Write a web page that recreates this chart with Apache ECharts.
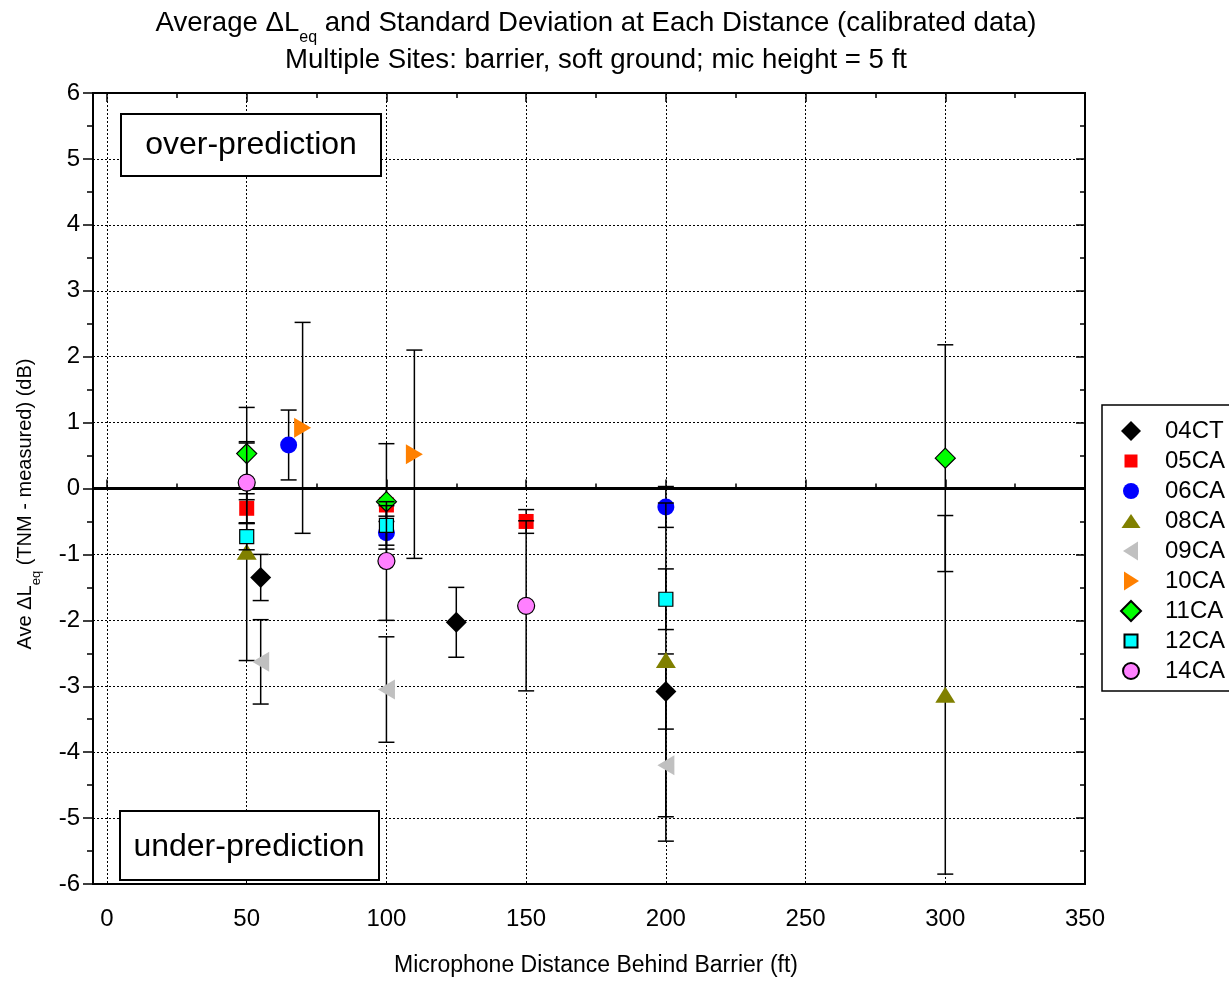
<!DOCTYPE html>
<html><head><meta charset="utf-8">
<script src="https://cdn.jsdelivr.net/npm/echarts@6/dist/echarts.min.js"></script>
<style>html,body{margin:0;padding:0;background:#fff}#c{width:1229px;height:981px}</style>
</head><body><div id="c"></div>
<script>
// ---------------- DATA ----------------
const seriesNames = ['04CT','05CA','06CA','08CA','09CA','10CA','11CA','12CA','14CA'];
const xTickValues = [0, 50, 100, 150, 200, 250, 300, 350];
const yTickValues = [-6,-5,-4,-3,-2,-1,0,1,2,3,4,5,6];
const zeroLine = [[0, 0], [1, 0]];

const x04CT = [55, 125, 200];   const y04CT = [-1.35, -2.03, -3.08]; const sd04CT = [0.35, 0.53, 0.57];
const x05CA = [50, 100, 150];   const y05CA = [-0.30, -0.25, -0.50]; const sd05CA = [0.22, 0.25, 0.18];
const x06CA = [65, 100, 200];   const y06CA = [0.66, -0.67, -0.28];  const sd06CA = [0.53, 0.25, 0.31];
const x08CA = [50, 200, 300];   const y08CA = [-0.96, -2.60, -3.13]; const sd08CA = [1.65, 2.38, 2.72];
const x09CA = [55, 100, 200];   const y09CA = [-2.63, -3.05, -4.20]; const sd09CA = [0.64, 0.80, 1.15];
const x10CA = [70, 110];        const y10CA = [0.92, 0.52];          const sd10CA = [1.60, 1.58];
const x11CA = [50, 100, 300];   const y11CA = [0.53, -0.20, 0.46];   const sd11CA = [0.70, 0.88, 1.72];
const x12CA = [50, 100, 200];   const y12CA = [-0.73, -0.56, -1.68]; const sd12CA = [0.20, 0.30, 0.46];
const x14CA = [50, 100, 150];   const y14CA = [0.09, -1.10, -1.78];  const sd14CA = [0.62, 0.90, 1.29];

const seriesData = {
  '04CT': [x04CT, y04CT, sd04CT], '05CA': [x05CA, y05CA, sd05CA], '06CA': [x06CA, y06CA, sd06CA],
  '08CA': [x08CA, y08CA, sd08CA], '09CA': [x09CA, y09CA, sd09CA], '10CA': [x10CA, y10CA, sd10CA],
  '11CA': [x11CA, y11CA, sd11CA], '12CA': [x12CA, y12CA, sd12CA], '14CA': [x14CA, y14CA, sd14CA]
};

// ---------------- STYLES ----------------
const FONT = '"Liberation Sans", Arial, sans-serif';
const styles = {
  '04CT': {symbol:'diamond', size:21, rot:0, color:'#000000', border:null,
           icon:'diamond'},
  '05CA': {symbol:'rect', size:15, rot:0, color:'#FF0000', border:null,
           icon:'path://M0 0M20 20M3.5 3.5h13v13h-13z'},
  '06CA': {symbol:'circle', size:17, rot:0, color:'#0000FF', border:null,
           icon:'path://M0 0M20 20M2 10a8 8 0 1 0 16 0a8 8 0 1 0 -16 0z'},
  '08CA': {symbol:'triangle', size:[20,16], rot:0, color:'#808000', border:null,
           icon:'path://M0 0M20 20M0.5 17L10 3L19.5 17z'},
  '09CA': {symbol:'triangle', size:[20,17], rot:90, color:'#C0C0C0', border:null,
           icon:'path://M0 0M20 20M2 10L17 0.5L17 19.5z'},
  '10CA': {symbol:'triangle', size:[20,17], rot:-90, color:'#FF8000', border:null,
           icon:'path://M0 0M20 20M3 0.5L18 10L3 19.5z'},
  '11CA': {symbol:'diamond', size:20, rot:0, color:'#00FF00', border:'#000',
           icon:'diamond'},
  '12CA': {symbol:'rect', size:14, rot:0, color:'#00FFFF', border:'#000',
           icon:'path://M0 0M20 20M3.5 3.5h13v13h-13z'},
  '14CA': {symbol:'circle', size:17, rot:0, color:'#FF80FF', border:'#000',
           icon:'path://M0 0M20 20M2 10a8 8 0 1 0 16 0a8 8 0 1 0 -16 0z'}
};

const FRAME_LEFT = 93, X0_LEFT = 107, PLOT_RIGHT = 144, PLOT_TOP = 93, PLOT_BOTTOM = 97;

const chart = echarts.init(document.getElementById('c'), null, {renderer:'canvas'});

function errRender(params, api) {
  const x = api.value(0), y = api.value(1), s = api.value(2);
  const t = api.coord([x, y + s]), b = api.coord([x, y - s]);
  const hw = 8, st = {stroke:'#000', lineWidth:1.5};
  return {type:'group', children:[
    {type:'line', shape:{x1:t[0], y1:t[1], x2:b[0], y2:b[1]}, style:st},
    {type:'line', shape:{x1:t[0]-hw, y1:t[1], x2:t[0]+hw, y2:t[1]}, style:st},
    {type:'line', shape:{x1:b[0]-hw, y1:b[1], x2:b[0]+hw, y2:b[1]}, style:st}
  ]};
}

const series = [{
  name:'zero', type:'line', xAxisIndex:0, yAxisIndex:0, z:1, silent:true,
  symbol:'none', lineStyle:{color:'#000', width:3}, data: zeroLine
}];
seriesNames.forEach((name, i) => {
  const [xs, ys, sds] = seriesData[name];
  const st = styles[name];
  series.push({
    name: name + ' err', type:'custom', xAxisIndex:1, yAxisIndex:2, z: 2 + 2*i,
    renderItem: errRender, silent:true,
    data: xs.map((v, k) => [v, ys[k], sds[k]]), encode:{x:0, y:1}
  });
  series.push({
    name: name, type:'scatter', xAxisIndex:1, yAxisIndex:2, z: 3 + 2*i,
    symbol: st.symbol, symbolSize: st.size, symbolRotate: st.rot,
    itemStyle: {color: st.color, borderColor: st.border || st.color, borderWidth: st.border ? 1.2 : 0, opacity:1},
    emphasis:{disabled:true},
    data: xs.map((v, k) => [v, ys[k]])
  });
});

const axisTextStyle = {color:'#000', fontSize:24, fontFamily:FONT};
const dotted = {show:true, lineStyle:{color:'#000', width:1, type:[2,2]}};

const mctx = document.createElement('canvas').getContext('2d');
function tw(t, size) { mctx.font = size + 'px ' + FONT; return mctx.measureText(t).width; }

function subText(parts, cx, cy, mainSize, subSize, subDrop, rotation) {
  const widths = parts.map(p => tw(p[0], p[1] ? subSize : mainSize));
  const total = widths.reduce((a, b) => a + b, 0);
  let x = -total / 2;
  const children = parts.map((p, k) => {
    const el = {type:'text', x:x, y: p[1] ? subDrop : 0,
      style:{text:p[0], fill:'#000', font: (p[1] ? subSize : mainSize) + 'px ' + FONT,
             textAlign:'left', textVerticalAlign:'middle'}};
    x += widths[k];
    return el;
  });
  return {type:'group', x:cx, y:cy, rotation: rotation || 0, children: children, silent:true};
}

const plotCx = (X0_LEFT + (1229 - PLOT_RIGHT)) / 2;

const graphic = [
  subText([['Average \u0394L', false], ['eq', true], [' and Standard Deviation at Each Distance (calibrated data)', false]],
          plotCx, 23, 27.6, 16, 15),
  subText([['Multiple Sites: barrier, soft ground; mic height = 5 ft', false]], plotCx, 60, 27.6, 17, 0),
  subText([['Ave \u0394L', false], ['eq', true], [' (TNM - measured) (dB)', false]], 25, 504, 20, 13, 11, Math.PI/2),
  subText([['Microphone Distance Behind Barrier (ft)', false]], plotCx, 966, 23, 14, 0),
  {type:'rect', shape:{x:121, y:114, width:260, height:62}, style:{fill:'#fff', stroke:'#000', lineWidth:2}, z:100, silent:true},
  {type:'text', x:251, y:145, z:101, style:{text:'over-prediction', font:'32px ' + FONT, fill:'#000', textAlign:'center', textVerticalAlign:'middle'}, silent:true},
  {type:'rect', shape:{x:120, y:811, width:259, height:69}, style:{fill:'#fff', stroke:'#000', lineWidth:2}, z:100, silent:true},
  {type:'text', x:249, y:847, z:101, style:{text:'under-prediction', font:'32px ' + FONT, fill:'#000', textAlign:'center', textVerticalAlign:'middle'}, silent:true}
];

const option = {
  animation:false,
  backgroundColor:'#fff',
  grid:[
    {left:FRAME_LEFT, right:PLOT_RIGHT, top:PLOT_TOP, bottom:PLOT_BOTTOM, show:true,
     borderColor:'#000', borderWidth:2, backgroundColor:'transparent'},
    {left:X0_LEFT, right:PLOT_RIGHT, top:PLOT_TOP, bottom:PLOT_BOTTOM}
  ],
  xAxis:[
    {gridIndex:0, type:'value', min:0, max:1, show:false},
    {gridIndex:1, type:'value', position:'bottom',
     min:xTickValues[0], max:xTickValues[xTickValues.length-1], interval:xTickValues[1]-xTickValues[0],
     axisLine:{show:false},
     axisTick:{show:true, inside:true, length:9, lineStyle:{color:'#000', width:1.5}},
     minorTick:{show:true, splitNumber:2, length:5, lineStyle:{color:'#000', width:1.5}},
     axisLabel:Object.assign({margin:23}, axisTextStyle),
     splitLine:dotted},
    {gridIndex:1, type:'value', position:'top',
     min:xTickValues[0], max:xTickValues[xTickValues.length-1], interval:xTickValues[1]-xTickValues[0],
     axisLine:{show:false},
     axisTick:{show:true, inside:true, length:9, lineStyle:{color:'#000', width:1.5}},
     minorTick:{show:true, splitNumber:2, length:5, lineStyle:{color:'#000', width:1.5}},
     axisLabel:{show:false}, splitLine:{show:false}}
  ],
  yAxis:[
    {gridIndex:0, type:'value', position:'left',
     min:yTickValues[0], max:yTickValues[yTickValues.length-1], interval:yTickValues[1]-yTickValues[0],
     axisLine:{show:true, lineStyle:{color:'#000', width:2}},
     axisTick:{show:true, inside:false, length:10, lineStyle:{color:'#000', width:1.5}},
     minorTick:{show:true, splitNumber:2, length:6, lineStyle:{color:'#000', width:1.5}},
     axisLabel:Object.assign({margin:13}, axisTextStyle),
     splitLine:dotted},
    {gridIndex:0, type:'value', position:'right',
     min:yTickValues[0], max:yTickValues[yTickValues.length-1], interval:yTickValues[1]-yTickValues[0],
     axisLine:{show:true, lineStyle:{color:'#000', width:2}},
     axisTick:{show:true, inside:true, length:9, lineStyle:{color:'#000', width:1.5}},
     minorTick:{show:true, splitNumber:2, length:5, lineStyle:{color:'#000', width:1.5}},
     axisLabel:{show:false}, splitLine:{show:false}},
    {gridIndex:1, type:'value', min:yTickValues[0], max:yTickValues[yTickValues.length-1], show:false}
  ],
  legend:{
    orient:'vertical', left:1102, top:405,
    data: seriesNames.map(n => ({name:n, icon: styles[n].icon})),
    itemWidth:20, itemHeight:20, itemGap:6,
    padding:[14, 30, 8, 18],
    borderColor:'#000', borderWidth:1.5, backgroundColor:'#fff',
    textStyle:{color:'#000', fontSize:24, fontFamily:FONT, padding:[0,0,0,19]},
    selectedMode:false
  },
  graphic: graphic,
  series: series
};
chart.setOption(option);
</script>
</body></html>
